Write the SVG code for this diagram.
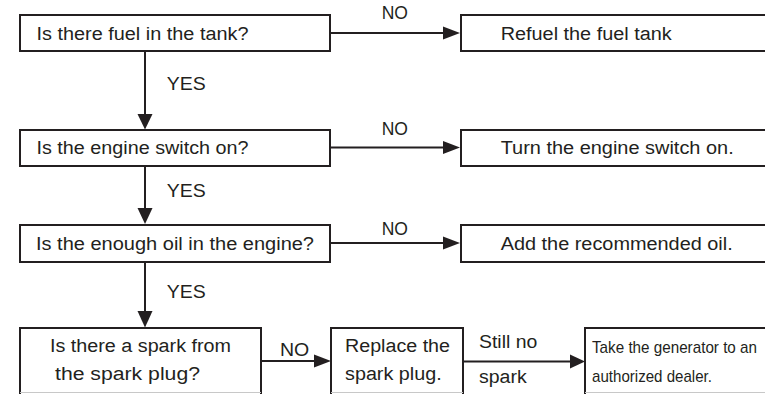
<svg xmlns="http://www.w3.org/2000/svg" width="765" height="394" viewBox="0 0 765 394">
<style>
.box{fill:#fff;stroke:#231f20;stroke-width:2}
.t{font-family:"Liberation Sans",Arial,sans-serif;font-size:18px;fill:#231f20}
.s{font-size:17px}
.ln{stroke:#231f20;stroke-width:2;fill:none}
.hd{fill:#231f20}
.edge{stroke:#c8c8c8;stroke-width:1}
</style>
<rect width="765" height="394" fill="#fff"/>
<g id="connectors">
<line class="ln" x1="145" y1="51" x2="145" y2="116"/>
<polygon class="hd" points="137.5,114 152.5,114 145,129.5"/>
<line class="ln" x1="145" y1="166" x2="145" y2="210"/>
<polygon class="hd" points="137.5,208 152.5,208 145,224"/>
<line class="ln" x1="145" y1="262" x2="145" y2="313"/>
<polygon class="hd" points="137.5,311 152.5,311 145,327.5"/>
<line class="ln" x1="330" y1="33" x2="445" y2="33"/>
<polygon class="hd" points="443,26.5 460,33 443,39.5"/>
<line class="ln" x1="330" y1="147.5" x2="445" y2="147.5"/>
<polygon class="hd" points="443,141 460,147.5 443,154"/>
<line class="ln" x1="330" y1="243" x2="445" y2="243"/>
<polygon class="hd" points="443,236.5 460,243 443,249.5"/>
<line class="ln" x1="261" y1="361" x2="316" y2="361"/>
<polygon class="hd" points="314,354.5 331,361 314,367.5"/>
<line class="ln" x1="463" y1="361.5" x2="572" y2="361.5"/>
<polygon class="hd" points="570,354.5 585,361.5 570,368.5"/>
<text class="t" x="381.7" y="19.3" textLength="26.3" lengthAdjust="spacingAndGlyphs">NO</text>
<text class="t" x="381.7" y="135" textLength="26.3" lengthAdjust="spacingAndGlyphs">NO</text>
<text class="t" x="381.7" y="235" textLength="26.3" lengthAdjust="spacingAndGlyphs">NO</text>
<text class="t" x="280" y="355.7" textLength="29.3" lengthAdjust="spacingAndGlyphs">NO</text>
<text class="t" x="166.7" y="90" textLength="39" lengthAdjust="spacingAndGlyphs">YES</text>
<text class="t" x="166.7" y="196.7" textLength="39" lengthAdjust="spacingAndGlyphs">YES</text>
<text class="t" x="166.7" y="297.7" textLength="39" lengthAdjust="spacingAndGlyphs">YES</text>
<text class="t" x="479" y="348.3" textLength="58.3" lengthAdjust="spacingAndGlyphs">Still no</text>
<text class="t" x="479" y="383.3" textLength="47.7" lengthAdjust="spacingAndGlyphs">spark</text>
</g>
<g id="q-fuel">
<rect class="box" x="20" y="15" width="310" height="36"/>
<text class="t" x="36.5" y="40" textLength="212" lengthAdjust="spacingAndGlyphs">Is there fuel in the tank?</text>
</g>
<g id="a-refuel">
<rect class="box" x="461" y="15" width="320" height="36"/>
<text class="t" x="500.7" y="39.5" textLength="171" lengthAdjust="spacingAndGlyphs">Refuel the fuel tank</text>
</g>
<g id="q-switch">
<rect class="box" x="20" y="130" width="310" height="36"/>
<text class="t" x="36.5" y="153.5" textLength="212" lengthAdjust="spacingAndGlyphs">Is the engine switch on?</text>
</g>
<g id="a-switch">
<rect class="box" x="461" y="130" width="320" height="36"/>
<text class="t" x="500.7" y="153.5" textLength="233" lengthAdjust="spacingAndGlyphs">Turn the engine switch on.</text>
</g>
<g id="q-oil">
<rect class="box" x="20" y="225" width="310" height="37"/>
<text class="t" x="36" y="249.5" textLength="278" lengthAdjust="spacingAndGlyphs">Is the enough oil in the engine?</text>
</g>
<g id="a-oil">
<rect class="box" x="461" y="225" width="320" height="37"/>
<text class="t" x="500.7" y="250" textLength="232" lengthAdjust="spacingAndGlyphs">Add the recommended oil.</text>
</g>
<g id="q-spark">
<rect class="box" x="20" y="328" width="241" height="80"/>
<line class="edge" x1="20" y1="392.5" x2="261" y2="392.5"/>
<text class="t" x="50" y="351.7" textLength="181" lengthAdjust="spacingAndGlyphs">Is there a spark from</text>
<text class="t" x="55" y="380" textLength="145" lengthAdjust="spacingAndGlyphs">the spark plug?</text>
</g>
<g id="a-plug">
<rect class="box" x="331" y="328" width="132" height="80"/>
<line class="edge" x1="331" y1="392.5" x2="463" y2="392.5"/>
<text class="t" x="345" y="351.7" textLength="105" lengthAdjust="spacingAndGlyphs">Replace the</text>
<text class="t" x="345" y="380" textLength="96.7" lengthAdjust="spacingAndGlyphs">spark plug.</text>
</g>
<g id="a-dealer">
<rect class="box" x="585" y="328" width="200" height="80"/>
<line class="edge" x1="585" y1="392.5" x2="765" y2="392.5"/>
<text class="t s" x="592" y="353" textLength="165" lengthAdjust="spacingAndGlyphs">Take the generator to an</text>
<text class="t s" x="592" y="381.5" textLength="120" lengthAdjust="spacingAndGlyphs">authorized dealer.</text>
</g>
</svg>
